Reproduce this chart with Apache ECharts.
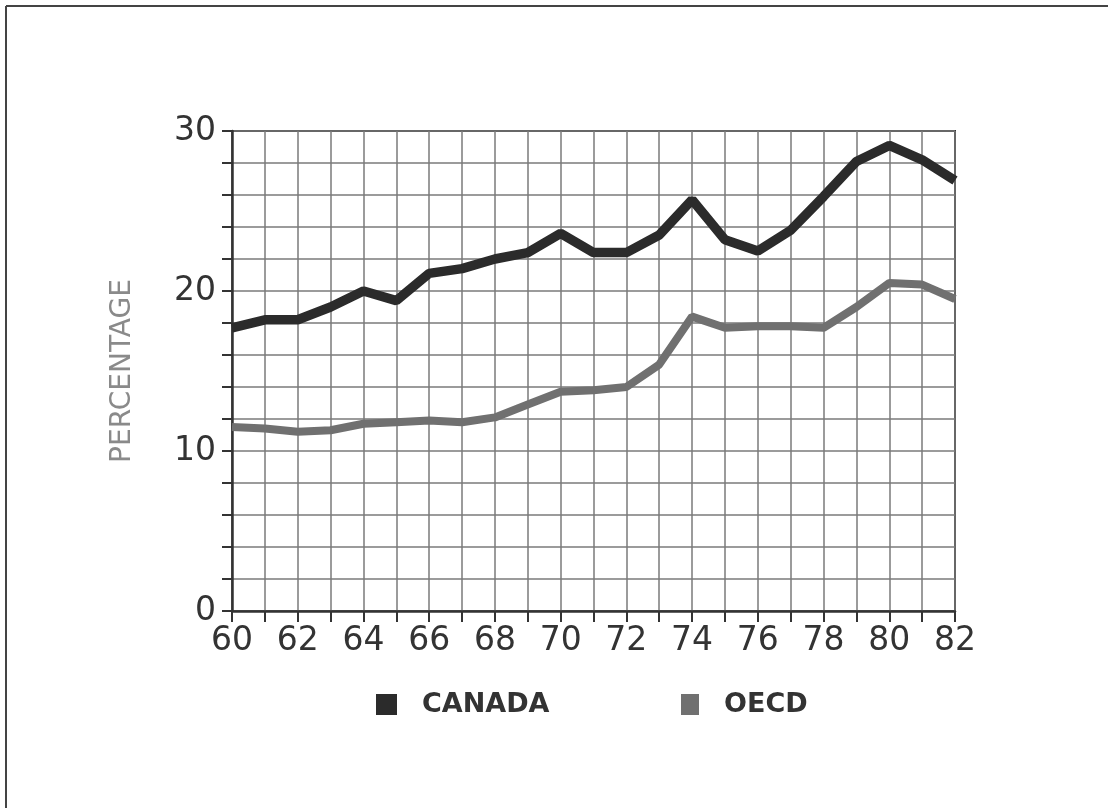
<!DOCTYPE html>
<html>
<head>
<meta charset="utf-8">
<script src="https://cdn.jsdelivr.net/npm/echarts@6/dist/echarts.min.js"></script>
<style>
html,body{margin:0;padding:0;background:#fff;}
#c{width:1108px;height:808px;}
</style>
</head>
<body>
<div id="c"></div>
<script>
const years = ['60','61','62','63','64','65','66','67','68','69','70','71','72','73','74','75','76','77','78','79','80','81','82'];
const canada = [17.7,18.2,18.2,19.0,20.0,19.4,21.1,21.4,22.0,22.4,23.6,22.4,22.4,23.5,25.7,23.2,22.5,23.8,25.9,28.1,29.1,28.2,26.9];
const oecd = [11.5,11.4,11.2,11.3,11.7,11.8,11.9,11.8,12.1,12.9,13.7,13.8,14.0,15.4,18.4,17.7,17.8,17.8,17.7,19.0,20.5,20.4,19.5];
const yLabels = {0:'0',10:'10',20:'20',30:'30'};

const chart = echarts.init(document.getElementById('c'));
const font = 'DejaVu Sans';
const legendText = {fontFamily:font,fontWeight:'bold',fontSize:27,color:'#333',
  rich:{t:{fontFamily:font,fontWeight:'bold',fontSize:27,color:'#333',padding:[0,0,0,20]}}};
chart.setOption({
  backgroundColor:'#fff',
  animation:false,
  graphic:[
    {type:'line',shape:{x1:6,y1:6,x2:1108,y2:6},style:{stroke:'#444',lineWidth:2},silent:true},
    {type:'line',shape:{x1:6,y1:6,x2:6,y2:808},style:{stroke:'#444',lineWidth:2},silent:true}
  ],
  grid:{left:232,right:153,top:131,bottom:197,show:true,borderColor:'#333',borderWidth:2,backgroundColor:'transparent'},
  legend:[
    {data:['CANADA'],left:371,top:686,icon:'rect',itemWidth:21,itemHeight:21,
     formatter:n=>'{t|'+n+'}',textStyle:legendText},
    {data:['OECD'],left:676,top:686,icon:'rect',itemWidth:18,itemHeight:21,
     formatter:n=>'{t|'+n+'}',textStyle:legendText}
  ],
  xAxis:{type:'category',data:years,boundaryGap:false,
    axisLine:{lineStyle:{color:'#333',width:2.5}},
    axisTick:{show:true,interval:0,length:11,lineStyle:{color:'#333',width:2}},
    axisLabel:{interval:1,margin:14,fontFamily:font,fontSize:33,color:'#333'},
    splitLine:{show:true,interval:0,lineStyle:{color:'#7a7a7a',width:1.5}}
  },
  yAxis:{type:'value',min:0,max:30,interval:2,
    name:'PERCENTAGE',nameLocation:'middle',nameGap:95,
    nameTextStyle:{fontFamily:font,fontSize:28,color:'#8a8a8a'},
    axisLine:{show:true,lineStyle:{color:'#333',width:2.5}},
    axisTick:{show:true,length:10,lineStyle:{color:'#333',width:2}},
    axisLabel:{margin:16,fontFamily:font,fontSize:33,color:'#333',formatter:v=>yLabels[v]!==undefined?yLabels[v]:''},
    splitLine:{show:true,lineStyle:{color:'#7a7a7a',width:1.5}}
  },
  series:[
    {name:'CANADA',type:'line',data:canada,symbol:'none',color:'#2b2b2b',lineStyle:{width:9.5,color:'#2b2b2b'},z:3},
    {name:'OECD',type:'line',data:oecd,symbol:'none',color:'#707070',lineStyle:{width:8,color:'#707070'},z:2}
  ]
});
</script>
</body>
</html>
